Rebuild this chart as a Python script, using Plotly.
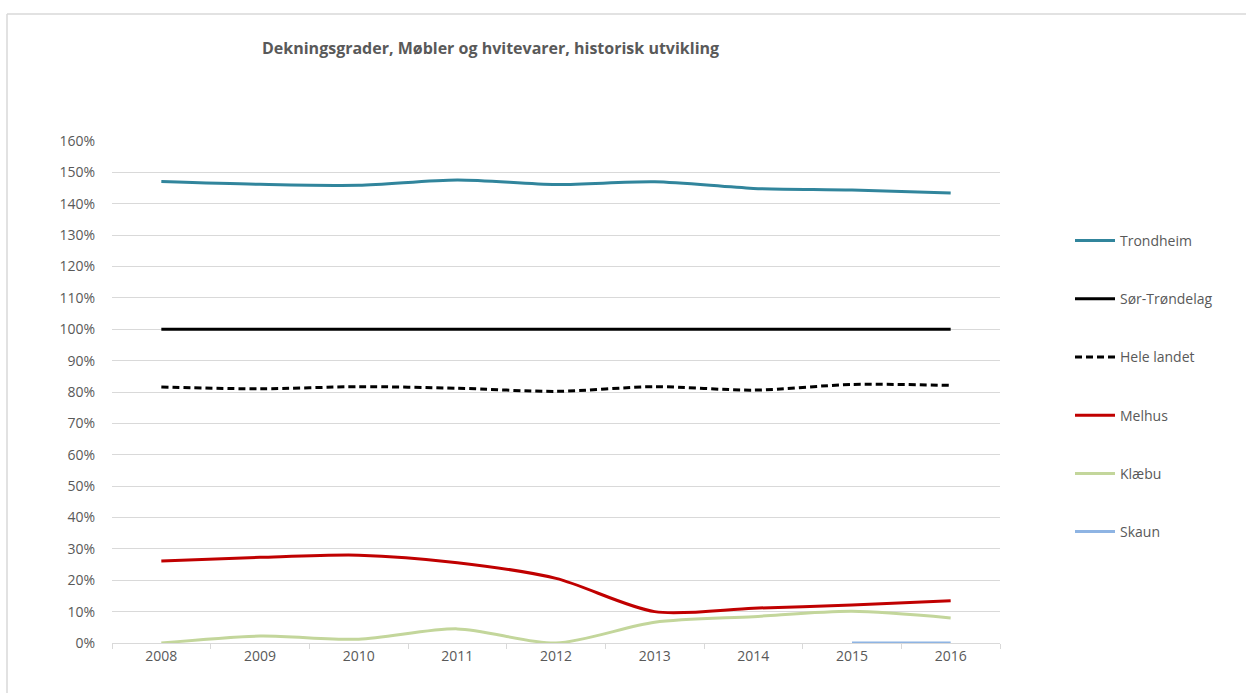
import plotly.graph_objects as go

years = ["2008", "2009", "2010", "2011", "2012", "2013", "2014", "2015", "2016"]

trondheim = [147.1, 146.2, 145.9, 147.6, 146.1, 147.0, 144.9, 144.4, 143.4]
sor_trondelag = [100, 100, 100, 100, 100, 100, 100, 100, 100]
hele_landet = [81.6, 81.0, 81.7, 81.2, 80.2, 81.7, 80.6, 82.4, 82.1]
melhus = [26.1, 27.3, 28.0, 25.6, 20.6, 10.0, 11.1, 12.1, 13.5]
klaebu = [0.0, 2.2, 1.2, 4.5, 0.0, 6.6, 8.4, 10.1, 8.0]
skaun_years = ["2015", "2016"]
skaun = [0.0, 0.0]

yticks = list(range(0, 161, 10))
ytick_text = [f"{v}%" for v in yticks]

grey_text = "#595959"
font_family = "Open Sans, Carlito, Calibri, sans-serif"

series = [
    ("Trondheim", years, trondheim, "#31859c", "solid"),
    ("Sør-Trøndelag", years, sor_trondelag, "#000000", "solid"),
    ("Hele landet", years, hele_landet, "#000000", "7px,4px"),
    ("Melhus", years, melhus, "#c00000", "solid"),
    ("Klæbu", years, klaebu, "#c3d69b", "solid"),
    ("Skaun", skaun_years, skaun, "#8eb4e3", "solid"),
]

fig = go.Figure()
for i, (name, xs, ys, color, dash) in enumerate(series):
    fig.add_trace(go.Scatter(
        x=xs, y=ys, name=name, mode="lines",
        line=dict(color=color, width=3, dash=dash, shape="spline", smoothing=0.8),
        legendgroup=f"g{i}",
        cliponaxis=False,
        hoverinfo="x+y+name",
    ))

fig.update_layout(
    width=1247, height=693,
    margin=dict(l=112, r=247, t=141, b=50),
    paper_bgcolor="white",
    plot_bgcolor="white",
    font=dict(family=font_family, color=grey_text, size=14),
    title=dict(
        text="<b>Dekningsgrader, Møbler og hvitevarer, historisk utvikling</b>",
        x=262 / 1247, xanchor="left", y=1 - 48 / 693, yanchor="middle",
        font=dict(size=16, color=grey_text, family=font_family),
    ),
    showlegend=True,
    legend=dict(
        x=1.0 + (1070 - 1000) / 888, xanchor="left",
        y=1 - (240 - 141 - 15) / 502, yanchor="top",
        tracegroupgap=37,
        itemwidth=40,
        font=dict(size=14, color=grey_text, family=font_family),
        bgcolor="rgba(0,0,0,0)",
    ),
    xaxis=dict(
        type="category",
        categoryorder="array", categoryarray=years,
        range=[-0.5, 8.5],
        showgrid=False,
        showline=True, linecolor="#d9d9d9", linewidth=1,
        ticks="outside", tickson="boundaries", ticklen=5, tickcolor="#d9d9d9",
        tickfont=dict(size=14, color=grey_text),
        zeroline=False,
    ),
    yaxis=dict(
        range=[0, 160],
        tickvals=yticks, ticktext=ytick_text,
        showgrid=True, gridcolor="#d9d9d9", gridwidth=1,
        zeroline=False, showline=False,
        ticks="", ticklabelstandoff=16,
        tickfont=dict(size=14, color=grey_text),
    ),
    shapes=[
        dict(type="line", xref="paper", yref="paper",
             x0=(7 - 112) / 888, x1=(1246 - 112) / 888,
             y0=1 + (141 - 14) / 502, y1=1 + (141 - 14) / 502,
             line=dict(color="#d9d9d9", width=1.5)),
        dict(type="line", xref="paper", yref="paper",
             x0=(7 - 112) / 888, x1=(7 - 112) / 888,
             y0=1 + (141 - 14) / 502, y1=-(693 - 643) / 502,
             line=dict(color="#d9d9d9", width=1.5)),
    ],
)

fig.write_html("out.html")
